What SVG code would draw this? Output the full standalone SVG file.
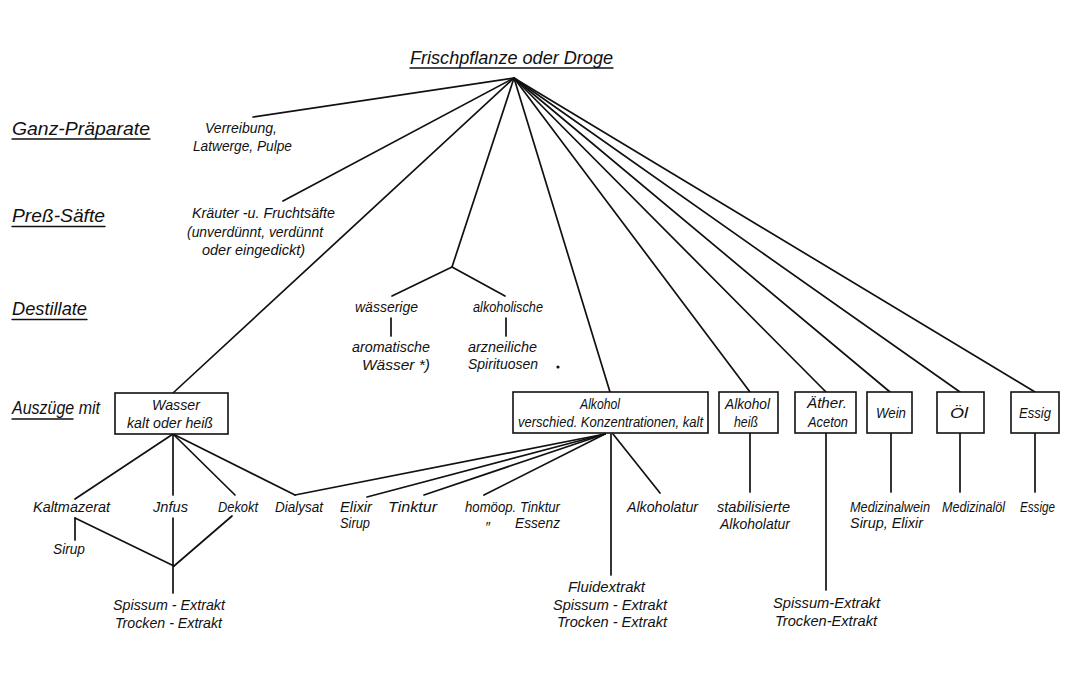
<svg xmlns="http://www.w3.org/2000/svg" width="1072" height="689" viewBox="0 0 1072 689">
<style>
text{font-family:"Liberation Sans",Arial,sans-serif;font-style:italic;fill:#111;}
.h{font-size:18px;}
.t{font-size:14px;}
line,polyline{stroke:#111;stroke-width:1.7;fill:none;stroke-linecap:round;}
rect{fill:#fff;stroke:#111;stroke-width:1.6;}
.u{stroke-width:1.4;}
</style>
<rect x="0" y="0" width="1072" height="689" style="stroke:none"/>

<g id="connectors">
  <line x1="514" y1="78" x2="253" y2="117"/>
  <line x1="514" y1="78" x2="283" y2="201"/>
  <line x1="514" y1="78" x2="173" y2="393"/>
  <line x1="514" y1="78" x2="452" y2="267"/>
  <line x1="514" y1="78" x2="610" y2="392"/>
  <line x1="514" y1="78" x2="750" y2="392"/>
  <line x1="514" y1="78" x2="826" y2="392"/>
  <line x1="514" y1="78" x2="890" y2="392"/>
  <line x1="514" y1="78" x2="960" y2="392"/>
  <line x1="514" y1="78" x2="1035" y2="392"/>
  <line x1="452" y1="267" x2="392" y2="296"/>
  <line x1="452" y1="267" x2="505" y2="296"/>
  <line x1="391" y1="318" x2="391" y2="336"/>
  <line x1="506" y1="318" x2="506" y2="336"/>
  <line x1="173" y1="434" x2="75" y2="499"/>
  <line x1="173" y1="434" x2="173" y2="495"/>
  <line x1="173" y1="434" x2="235" y2="495"/>
  <line x1="173" y1="434" x2="295" y2="495"/>
  <line x1="295" y1="495" x2="605" y2="434"/>
  <line x1="75" y1="518" x2="75" y2="540"/>
  <line x1="75" y1="518" x2="174" y2="566"/>
  <line x1="232" y1="516" x2="174" y2="566"/>
  <line x1="173" y1="518" x2="173" y2="593"/>
  <line x1="605" y1="434" x2="367" y2="497"/>
  <line x1="605" y1="434" x2="424" y2="495"/>
  <line x1="605" y1="434" x2="484" y2="495"/>
  <line x1="611" y1="434" x2="611" y2="575"/>
  <line x1="613" y1="434" x2="660" y2="493"/>
  <line x1="750" y1="433" x2="750" y2="492"/>
  <line x1="826" y1="433" x2="826" y2="590"/>
  <line x1="891" y1="433" x2="891" y2="492"/>
  <line x1="960" y1="433" x2="960" y2="492"/>
  <line x1="1035" y1="433" x2="1035" y2="492"/>
</g>

<g id="title">
  <text class="h" x="410" y="64" textLength="203" lengthAdjust="spacingAndGlyphs">Frischpflanze oder Droge</text>
  <line class="u" x1="410" y1="68" x2="613" y2="68"/>
</g>

<g id="heading-ganz">
  <text class="h" x="12" y="135" textLength="138" lengthAdjust="spacingAndGlyphs">Ganz-Präparate</text>
  <line class="u" x1="12" y1="139" x2="150" y2="139"/>
</g>
<g id="heading-press">
  <text class="h" x="12" y="222" textLength="93" lengthAdjust="spacingAndGlyphs">Preß-Säfte</text>
  <line class="u" x1="12" y1="226.5" x2="105" y2="226.5"/>
</g>
<g id="heading-destillate">
  <text class="h" x="12" y="315" textLength="75" lengthAdjust="spacingAndGlyphs">Destillate</text>
  <line class="u" x1="12" y1="319.5" x2="87" y2="319.5"/>
</g>
<g id="heading-auszuege">
  <text class="h" x="12" y="414" textLength="88" lengthAdjust="spacingAndGlyphs">Auszüge mit</text>
  <line class="u" x1="12" y1="419" x2="73" y2="419"/>
</g>

<g id="ganz">
  <text class="t" x="205" y="133" textLength="72" lengthAdjust="spacingAndGlyphs">Verreibung,</text>
  <text class="t" x="193" y="151" textLength="99" lengthAdjust="spacingAndGlyphs">Latwerge, Pulpe</text>
</g>
<g id="press">
  <text class="t" x="192" y="218" textLength="143" lengthAdjust="spacingAndGlyphs">Kräuter -u. Fruchtsäfte</text>
  <text class="t" x="187" y="237" textLength="136" lengthAdjust="spacingAndGlyphs">(unverdünnt, verdünnt</text>
  <text class="t" x="202" y="255" textLength="103" lengthAdjust="spacingAndGlyphs">oder eingedickt)</text>
</g>

<g id="waessrige">
  <text class="t" x="355" y="312" textLength="63" lengthAdjust="spacingAndGlyphs">wässerige</text>
</g>
<g id="alkoholische">
  <text class="t" x="473" y="312" textLength="70" lengthAdjust="spacingAndGlyphs">alkoholische</text>
</g>
<g id="aromatische">
  <text class="t" x="352" y="352" textLength="78" lengthAdjust="spacingAndGlyphs">aromatische</text>
  <text class="t" x="362" y="370" textLength="68" lengthAdjust="spacingAndGlyphs">Wässer *)</text>
</g>
<g id="spirituosen">
  <text class="t" x="468" y="352" textLength="69" lengthAdjust="spacingAndGlyphs">arzneiliche</text>
  <text class="t" x="468" y="369" textLength="70" lengthAdjust="spacingAndGlyphs">Spirituosen</text>
</g>
<circle cx="558" cy="367" r="1.6" fill="#111"/>

<g id="box-wasser">
  <rect x="115" y="393" width="113" height="41"/>
  <text class="t" x="152" y="410" textLength="48" lengthAdjust="spacingAndGlyphs">Wasser</text>
  <text class="t" x="127" y="428" textLength="86" lengthAdjust="spacingAndGlyphs">kalt oder heiß</text>
</g>
<g id="box-alkohol">
  <rect x="513" y="392" width="195" height="41"/>
  <text class="t" x="580" y="409" textLength="40" lengthAdjust="spacingAndGlyphs">Alkohol</text>
  <text class="t" x="518" y="427" textLength="185" lengthAdjust="spacingAndGlyphs">verschied. Konzentrationen, kalt</text>
</g>
<g id="box-alkohol-heiss">
  <rect x="719" y="392" width="59" height="41"/>
  <text class="t" x="725" y="409" textLength="45" lengthAdjust="spacingAndGlyphs">Alkohol</text>
  <text class="t" x="734" y="427" textLength="24" lengthAdjust="spacingAndGlyphs">heiß</text>
</g>
<g id="box-aether">
  <rect x="795" y="392" width="61" height="41"/>
  <text class="t" x="807" y="408" textLength="40" lengthAdjust="spacingAndGlyphs">Äther.</text>
  <text class="t" x="808" y="427" textLength="40" lengthAdjust="spacingAndGlyphs">Aceton</text>
</g>
<g id="box-wein">
  <rect x="867" y="392" width="45" height="41"/>
  <text class="t" x="876" y="418" textLength="30" lengthAdjust="spacingAndGlyphs">Wein</text>
</g>
<g id="box-oel">
  <rect x="937" y="392" width="47" height="41"/>
  <text class="t" x="950" y="418" textLength="18" lengthAdjust="spacingAndGlyphs">Öl</text>
</g>
<g id="box-essig">
  <rect x="1011" y="392" width="48" height="41"/>
  <text class="t" x="1019" y="418" textLength="32" lengthAdjust="spacingAndGlyphs">Essig</text>
</g>

<g id="kaltmazerat"><text class="t" x="33" y="512" textLength="77" lengthAdjust="spacingAndGlyphs">Kaltmazerat</text></g>
<g id="sirup-1"><text class="t" x="53" y="554" textLength="32" lengthAdjust="spacingAndGlyphs">Sirup</text></g>
<g id="infus"><text class="t" x="153" y="512" textLength="35" lengthAdjust="spacingAndGlyphs">Jnfus</text></g>
<g id="dekokt"><text class="t" x="218" y="512" textLength="40" lengthAdjust="spacingAndGlyphs">Dekokt</text></g>
<g id="dialysat"><text class="t" x="275" y="512" textLength="48" lengthAdjust="spacingAndGlyphs">Dialysat</text></g>
<g id="extrakt-wasser">
  <text class="t" x="113" y="610" textLength="112" lengthAdjust="spacingAndGlyphs">Spissum - Extrakt</text>
  <text class="t" x="115" y="628" textLength="107" lengthAdjust="spacingAndGlyphs">Trocken - Extrakt</text>
</g>

<g id="elixir">
  <text class="t" x="340" y="512" textLength="32" lengthAdjust="spacingAndGlyphs">Elixir</text>
  <text class="t" x="340" y="528" textLength="30" lengthAdjust="spacingAndGlyphs">Sirup</text>
</g>
<g id="tinktur"><text class="t" x="388" y="512" textLength="49" lengthAdjust="spacingAndGlyphs">Tinktur</text></g>
<g id="homoeop">
  <text class="t" x="465" y="512" textLength="95" lengthAdjust="spacingAndGlyphs">homöop. Tinktur</text>
  <text class="t" x="485" y="532">″</text>
  <text class="t" x="515" y="528" textLength="45" lengthAdjust="spacingAndGlyphs">Essenz</text>
</g>
<g id="alkoholatur"><text class="t" x="627" y="512" textLength="71" lengthAdjust="spacingAndGlyphs">Alkoholatur</text></g>
<g id="fluidextrakt">
  <text class="t" x="568" y="592" textLength="77" lengthAdjust="spacingAndGlyphs">Fluidextrakt</text>
  <text class="t" x="553" y="610" textLength="114" lengthAdjust="spacingAndGlyphs">Spissum - Extrakt</text>
  <text class="t" x="557" y="627" textLength="110" lengthAdjust="spacingAndGlyphs">Trocken - Extrakt</text>
</g>

<g id="stab-alkoholatur">
  <text class="t" x="717" y="512" textLength="73" lengthAdjust="spacingAndGlyphs">stabilisierte</text>
  <text class="t" x="720" y="529" textLength="70" lengthAdjust="spacingAndGlyphs">Alkoholatur</text>
</g>
<g id="extrakt-aether">
  <text class="t" x="773" y="608" textLength="107" lengthAdjust="spacingAndGlyphs">Spissum-Extrakt</text>
  <text class="t" x="775" y="626" textLength="102" lengthAdjust="spacingAndGlyphs">Trocken-Extrakt</text>
</g>
<g id="medizinalwein">
  <text class="t" x="850" y="512" textLength="80" lengthAdjust="spacingAndGlyphs">Medizinalwein</text>
  <text class="t" x="850" y="528" textLength="73" lengthAdjust="spacingAndGlyphs">Sirup, Elixir</text>
</g>
<g id="medizinaloel"><text class="t" x="942" y="512" textLength="63" lengthAdjust="spacingAndGlyphs">Medizinalöl</text></g>
<g id="essige"><text class="t" x="1020" y="512" textLength="35" lengthAdjust="spacingAndGlyphs">Essige</text></g>
</svg>
